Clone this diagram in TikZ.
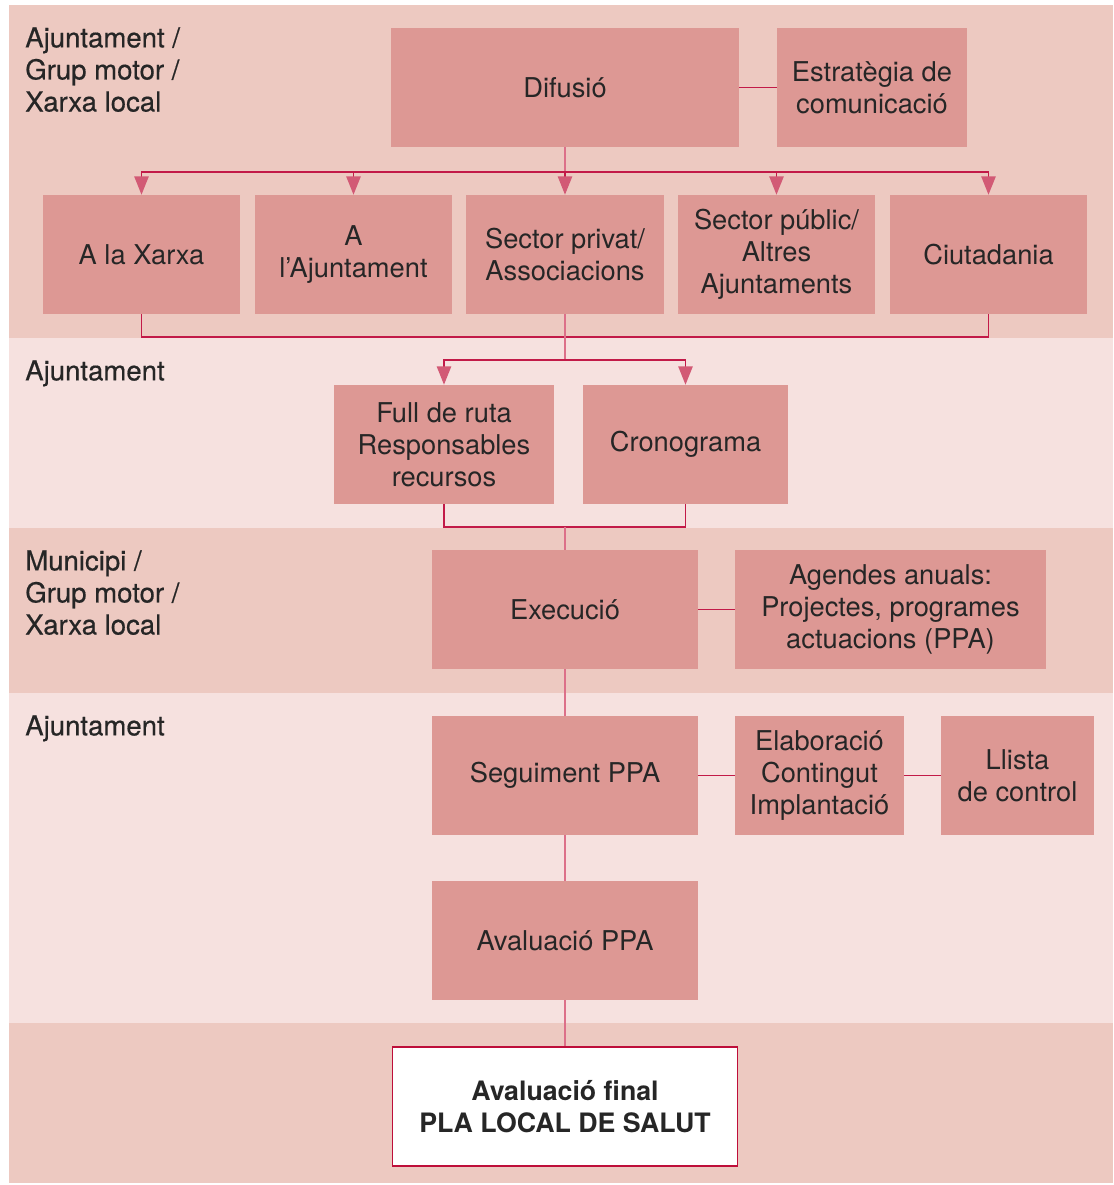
\documentclass[tikz,border=0pt]{standalone}
\usepackage{fontspec}
\setmainfont{TeX Gyre Heros}
\newfontfamily\sidefont[FakeBold=0.5]{TeX Gyre Heros}
\usetikzlibrary{arrows.meta}
\definecolor{banddark}{HTML}{EDC9C1}
\definecolor{bandlight}{HTML}{F6E1DF}
\definecolor{boxpink}{HTML}{DD9894}
\definecolor{linered}{HTML}{C21A48}
\definecolor{stempink}{HTML}{DC7089}
\definecolor{arrowpink}{HTML}{D25A75}
\definecolor{finalred}{HTML}{BE0E3A}
\tikzset{
  box/.style={fill=boxpink, inner sep=0pt, align=center, minimum height=2.975cm,
    font=\fontsize{19.4}{22.8}\selectfont, text=black!85},
  side/.style={anchor=north west, inner sep=0pt, align=left,
    font=\sidefont\fontsize{19.6}{22.8}\selectfont, text=black!85},
  link/.style={draw=linered, line width=1pt},
  stem/.style={draw=stempink, line width=1.2pt},
  arr/.style={link, -{Triangle[length=0.46cm, width=0.36cm, color=arrowpink]}}
}
\begin{document}
\begin{tikzpicture}[x=0.025cm,y=-0.025cm]
        % fons
        \fill[white] (0,0) rectangle (1113,1185);
        \fill[banddark] (9,5) rectangle (1113,338);
        \fill[bandlight] (9,338) rectangle (1113,528);
        \fill[banddark] (9,528) rectangle (1113,693);
        \fill[bandlight] (9,693) rectangle (1113,1023);
        \fill[banddark] (9,1023) rectangle (1113,1183);
        % etiquetes
        \node[side] (lab1) at (25,27) {Ajuntament /\\Grup motor /\\Xarxa local};
        \node[side] (lab2) at (25,360) {Ajuntament};
        \node[side] (lab3) at (25,550) {Municipi /\\Grup motor /\\Xarxa local};
        \node[side] (lab4) at (25,715) {Ajuntament};
        % caixes
        \node[box, minimum width=8.7cm] (difusio) at (565,87.5) {Difusió};
        \node[box, minimum width=4.75cm] (estrategia) at (872,87.5) {Estratègia de\\comunicació};
        \node[box, minimum width=4.925cm] (xarxa) at (141.5,254.5) {A la Xarxa};
        \node[box, minimum width=4.925cm] (ajunt) at (353.5,254.5) {A\\l’Ajuntament};
        \node[box, minimum width=4.925cm] (privat) at (565,254.5) {Sector privat/\\Associacions};
        \node[box, minimum width=4.925cm] (public) at (776.5,254.5) {Sector públic/\\Altres\\Ajuntaments};
        \node[box, minimum width=4.925cm] (ciutad) at (988.5,254.5) {Ciutadania};
        \node[box, minimum width=5.5cm] (fullruta) at (444,444.5) {Full de ruta\\Responsables\\recursos};
        \node[box, minimum width=5.125cm] (crono) at (685.5,444.5) {Cronograma};
        \node[box, minimum width=6.625cm] (execucio) at (565,609.5) {Execució};
        \node[box, minimum width=7.775cm] (agendes) at (890.5,609.5) {Agendes anuals:\\Projectes, programes\\actuacions (PPA)};
        \node[box, minimum width=6.625cm] (seguiment) at (565,775.5) {Seguiment PPA};
        \node[box, minimum width=4.225cm] (elaboracio) at (819.5,775.5) {Elaboració\\Contingut\\Implantació};
        \node[box, minimum width=3.825cm] (llista) at (1017.5,775.5) {Llista\\de control};
        \node[box, minimum width=6.625cm] (avaluacio) at (565,940.5) {Avaluació PPA};
        \node[box, fill=white, draw=finalred, line width=1.3pt, minimum width=8.625cm,
          font=\fontsize{19}{22.8}\selectfont\bfseries] (final) at (565,1106.5) {Avaluació final\\PLA LOCAL DE SALUT};
        % connexions
        \coordinate (split1) at (565,172);
        \coordinate (join1) at (565,337);
        \coordinate (split2) at (565,360);
        \coordinate (join2) at (565,527);
        \draw[link] (difusio.east) -- (estrategia.west);
        \draw[stem] (difusio.south) -- (split1);
        \draw[arr] (split1) -| (xarxa.north);
        \draw[arr] (split1) -| (ajunt.north);
        \draw[arr] (split1) -- (privat.north);
        \draw[arr] (split1) -| (public.north);
        \draw[arr] (split1) -| (ciutad.north);
        \draw[link] (xarxa.south) |- (join1) -| (ciutad.south);
        \draw[stem] (privat.south) -- (split2);
        \draw[arr] (split2) -| (fullruta.north);
        \draw[arr] (split2) -| (crono.north);
        \draw[link] (fullruta.south) |- (join2) -| (crono.south);
        \draw[stem] (join2) -- (execucio.north);
        \draw[link] (execucio.east) -- (agendes.west);
        \draw[stem] (execucio.south) -- (seguiment.north);
        \draw[link] (seguiment.east) -- (elaboracio.west);
        \draw[link] (elaboracio.east) -- (llista.west);
        \draw[stem] (seguiment.south) -- (avaluacio.north);
        \draw[stem] (avaluacio.south) -- (final.north);
\end{tikzpicture}
\end{document}
